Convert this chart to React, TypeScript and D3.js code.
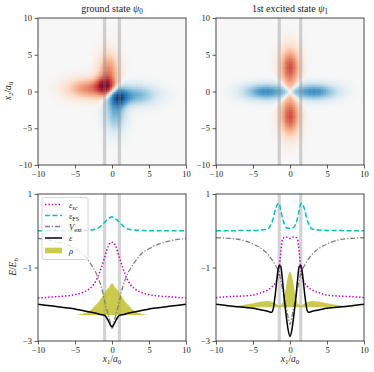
import React, { useEffect, useRef } from 'react'
import * as d3 from 'd3'

const W = 374
const H = 372

// x1 sample positions shared by every 1D curve
const X1 = [-10, -8, -6, -5, -4, -3, -2.5, -2.25, -2, -1.75, -1.5, -1.25, -1, -0.75, -0.5, -0.25, 0,
  0.25, 0.5, 0.75, 1, 1.25, 1.5, 1.75, 2, 2.25, 2.5, 3, 4, 5, 6, 8, 10]

// ground state curves (E/E_h)
const GS_EPS_XC = [-1.83, -1.8, -1.77, -1.74, -1.68, -1.57, -1.47, -1.39, -1.29, -1.17, -1.04, -0.89, -0.73, -0.56, -0.42, -0.33, -0.31,
  -0.33, -0.42, -0.56, -0.73, -0.89, -1.04, -1.17, -1.29, -1.39, -1.47, -1.57, -1.68, -1.74, -1.77, -1.8, -1.83]
const GS_EPS_FS = [0, 0, 0, 0, 0.01, 0.02, 0.03, 0.045, 0.06, 0.09, 0.13, 0.18, 0.23, 0.28, 0.32, 0.36, 0.38,
  0.36, 0.32, 0.28, 0.23, 0.18, 0.13, 0.09, 0.06, 0.045, 0.03, 0.02, 0.01, 0, 0, 0, 0]
const GS_VEXT = [-0.21, -0.27, -0.39, -0.49, -0.62, -0.87, -1.02, -1.11, -1.22, -1.34, -1.49, -1.68, -1.92, -2.12, -2.3, -2.48, -2.66,
  -2.48, -2.3, -2.12, -1.92, -1.68, -1.49, -1.34, -1.22, -1.11, -1.02, -0.87, -0.62, -0.49, -0.39, -0.27, -0.21]
const GS_EPS = [-2.0, -2.05, -2.1, -2.13, -2.17, -2.21, -2.23, -2.24, -2.25, -2.27, -2.28, -2.29, -2.3, -2.36, -2.45, -2.55, -2.62,
  -2.55, -2.45, -2.36, -2.3, -2.29, -2.28, -2.27, -2.25, -2.24, -2.23, -2.21, -2.17, -2.13, -2.1, -2.05, -2.0]
const GS_RHO = [0, 0, 0, 0, 0.03, 0.11, 0.2, 0.26, 0.31, 0.37, 0.44, 0.52, 0.6, 0.67, 0.73, 0.8, 0.86,
  0.8, 0.73, 0.67, 0.6, 0.52, 0.44, 0.37, 0.31, 0.26, 0.2, 0.11, 0.03, 0, 0, 0, 0]
const GS_RHO_BASE = -2.29

// 1st excited state curves
const ES_EPS_XC = [-1.82, -1.79, -1.77, -1.75, -1.69, -1.61, -1.54, -1.49, -1.43, -1.32, -1.12, -0.6, -0.22, -0.18, -0.17, -0.19, -0.21,
  -0.19, -0.17, -0.18, -0.22, -0.6, -1.12, -1.32, -1.43, -1.49, -1.54, -1.61, -1.69, -1.75, -1.77, -1.79, -1.82]
const ES_EPS_FS = [0, 0, 0.01, 0.01, 0.02, 0.05, 0.2, 0.34, 0.56, 0.7, 0.75, 0.56, 0.33, 0.17, 0.09, 0.07, 0.07,
  0.07, 0.09, 0.17, 0.33, 0.56, 0.75, 0.7, 0.56, 0.34, 0.2, 0.05, 0.02, 0.01, 0.01, 0, 0]
const ES_VEXT = [-0.19, -0.21, -0.28, -0.36, -0.47, -0.64, -0.77, -0.84, -0.93, -1.02, -1.12, -1.35, -1.6, -1.85, -2.1, -2.35, -2.55,
  -2.35, -2.1, -1.85, -1.6, -1.35, -1.12, -1.02, -0.93, -0.84, -0.77, -0.64, -0.47, -0.36, -0.28, -0.21, -0.19]
const ES_EPS = [-2.0, -2.05, -2.09, -2.11, -2.15, -2.19, -2.22, -2.11, -1.75, -1.28, -0.95, -0.97, -1.38, -1.9, -2.33, -2.7, -2.88,
  -2.7, -2.33, -1.9, -1.38, -0.97, -0.95, -1.28, -1.75, -2.11, -2.22, -2.19, -2.15, -2.11, -2.09, -2.05, -2.0]
const ES_RHO = [0, 0.01, 0.07, 0.11, 0.15, 0.17, 0.15, 0.13, 0.11, 0.07, 0.04, 0.06, 0.13, 0.3, 0.6, 0.85, 0.97,
  0.85, 0.6, 0.3, 0.13, 0.06, 0.04, 0.07, 0.11, 0.13, 0.15, 0.17, 0.15, 0.11, 0.07, 0.01, 0]
const ES_RHO_BASE = -2.08

// grey marker bands on x1
const GS_BANDS = [-1, 1]
const ES_BANDS = [-1.45, 1.45]

// wavefunction lobes (a > 0 red, a < 0 blue)
const GS_LOBES = [
  { cx: -3.0, cy: 0.45, sx: 2.2, sy: 1.0, a: 0.5 },
  { cx: -0.45, cy: 2.7, sx: 1.0, sy: 1.9, a: 0.48 },
  { cx: -1.0, cy: 0.8, sx: 0.85, sy: 0.85, a: 0.42 },
  { cx: 3.0, cy: -0.45, sx: 2.2, sy: 1.0, a: -0.5 },
  { cx: 0.45, cy: -2.7, sx: 1.0, sy: 1.9, a: -0.48 },
  { cx: 1.0, cy: -0.8, sx: 0.85, sy: 0.85, a: -0.42 },
]
const ES_LOBES = [
  { cx: 0, cy: 3.3, sx: 0.95, sy: 1.9, a: 0.64 },
  { cx: 0, cy: -3.3, sx: 0.95, sy: 1.9, a: 0.64 },
  { cx: 3.3, cy: 0, sx: 2.2, sy: 0.8, a: -0.62 },
  { cx: -3.3, cy: 0, sx: 2.2, sy: 0.8, a: -0.62 },
]

const XTICKS = [-10, -5, 0, 5, 10]
const ETICKS = [1, -1, -3]

const FONT = 'Liberation Serif, DejaVu Serif, serif'
const INK = '#333'

type Part = [string, string]

function rich(sel: any, parts: Part[]) {
  let shifted = false
  parts.forEach(([t, s]) => {
    const sp = sel.append('tspan').text(t)
    if (s.includes('i')) sp.attr('font-style', 'italic')
    if (s.includes('s')) {
      sp.attr('font-size', '72%')
      if (!shifted) sp.attr('dy', 2.2)
      shifted = true
    } else if (shifted) {
      sp.attr('dy', -2.2)
      shifted = false
    }
  })
}

export default function App() {
  const ref = useRef<SVGSVGElement>(null)

  useEffect(() => {
    const svg = d3.select(ref.current)
    svg.selectAll('*').remove()
    svg.append('rect').attr('width', W).attr('height', H).attr('fill', '#fff')

    const cols = [[38, 186], [216, 364]]
    const topRow = [18, 165]
    const botRow = [194, 341]
    const fmt = d3.format('d')
    const rdbu = d3.piecewise(d3.interpolateRgb, [...d3.schemeRdBu[11]])

    const frame = (g: any, x: any, y: any) => {
      g.append('rect')
        .attr('x', x.range()[0]).attr('y', y.range()[1])
        .attr('width', x.range()[1] - x.range()[0])
        .attr('height', y.range()[0] - y.range()[1])
        .attr('fill', 'none').attr('stroke', INK).attr('stroke-width', 0.9)
    }

    const axes = (g: any, x: any, y: any, yTicks: number[]) => {
      const ax = g.append('g').attr('transform', `translate(0,${y.range()[0]})`)
        .call(d3.axisBottom(x).tickValues(XTICKS).tickFormat(fmt).tickSize(3.5).tickSizeOuter(0).tickPadding(2.5))
      const ay = g.append('g').attr('transform', `translate(${x.range()[0]},0)`)
        .call(d3.axisLeft(y).tickValues(yTicks).tickFormat(fmt).tickSize(3.5).tickSizeOuter(0).tickPadding(2.5))
      ;[ax, ay].forEach((a) => {
        a.attr('font-family', FONT)
        a.select('.domain').remove()
        a.selectAll('line').attr('stroke', INK).attr('stroke-width', 0.8)
        a.selectAll('text').attr('font-family', FONT).attr('font-size', 8.5).attr('fill', '#222')
      })
    }

    const bands = (g: any, x: any, y: any, bs: number[]) => {
      g.selectAll(null).data(bs).join('rect')
        .attr('x', (d: number) => x(d) - 1.6).attr('width', 3.2)
        .attr('y', y.range()[1]).attr('height', y.range()[0] - y.range()[1])
        .attr('fill', '#808080').attr('opacity', 0.35)
    }

    // ---- top: wavefunction maps
    const heat = (col: number[], lobes: typeof GS_LOBES, node: (a: number, b: number) => number, bs: number[], title: Part[]) => {
      const g = svg.append('g')
      const x = d3.scaleLinear().domain([-10, 10]).range(col)
      const y = d3.scaleLinear().domain([-10, 10]).range([topRow[1], topRow[0]])
      g.append('rect').attr('x', col[0]).attr('y', topRow[0])
        .attr('width', col[1] - col[0]).attr('height', topRow[1] - topRow[0]).attr('fill', '#f7f7f7')
      const N = 90
      const step = 20 / N
      const cells: { i: number; j: number; v: number }[] = []
      for (let i = 0; i < N; i++) {
        for (let j = 0; j < N; j++) {
          const x1 = -10 + (i + 0.5) * step
          const x2 = -10 + (j + 0.5) * step
          let v = 0
          for (const l of lobes) {
            const gval = l.a * Math.exp(-0.5 * ((x1 - l.cx) / l.sx) ** 2 - 0.5 * ((x2 - l.cy) / l.sy) ** 2)
            v += gval * Math.max(0, Math.tanh((node(x1, x2) * Math.sign(l.a)) / 0.3))
          }
          if (Math.abs(v) > 0.003) cells.push({ i, j, v })
        }
      }
      const color = (v: number) => rdbu((1 - Math.max(-1, Math.min(1, v))) / 2)
      const cw = x(step - 10) - x(-10)
      g.append('g').selectAll('rect').data(cells).join('rect')
        .attr('x', (d) => x(-10 + d.i * step))
        .attr('y', (d) => y(-10 + (d.j + 1) * step))
        .attr('width', cw + 0.4).attr('height', cw + 0.4)
        .attr('fill', (d) => color(d.v))
      bands(g, x, y, bs)
      frame(g, x, y)
      axes(g, x, y, XTICKS)
      const t = g.append('text').attr('x', (col[0] + col[1]) / 2).attr('y', 12)
        .attr('text-anchor', 'middle').attr('font-family', FONT).attr('font-size', 10).attr('fill', '#222')
      rich(t, title)
    }

    heat(cols[0], GS_LOBES, (a, b) => (b - a) / Math.SQRT2, GS_BANDS, [['ground state ', ''], ['ψ', 'i'], ['0', 's']])
    heat(cols[1], ES_LOBES, (a, b) => (Math.abs(b) - Math.abs(a)) / Math.SQRT2, ES_BANDS, [['1st excited state ', ''], ['ψ', 'i'], ['1', 's']])

    // ---- bottom: energy densities
    const series = [
      { key: 'xc', color: '#bf00bf', dash: '1.4,2', width: 1.5, label: [['ε', 'i'], ['xc', 'si']] as Part[] },
      { key: 'fs', color: '#00bfbf', dash: '5,2.5', width: 1.5, label: [['ε', 'i'], ['FS', 's']] as Part[] },
      { key: 'v', color: '#808080', dash: '5,1.8,1.3,1.8', width: 1.3, label: [['V', 'i'], ['ext', 's']] as Part[] },
      { key: 'e', color: '#000', dash: null, width: 1.5, label: [['ε', 'i']] as Part[] },
    ]
    const RHO_FILL = '#bcbd22'

    const lines = (col: number[], vals: Record<string, number[]>, rho: number[], base: number, bs: number[], legend: boolean) => {
      const g = svg.append('g')
      const x = d3.scaleLinear().domain([-10, 10]).range(col)
      const y = d3.scaleLinear().domain([-3, 1]).range([botRow[1], botRow[0]])
      const clipId = `clip${col[0]}`
      g.append('clipPath').attr('id', clipId).append('rect')
        .attr('x', col[0]).attr('y', botRow[0]).attr('width', col[1] - col[0]).attr('height', botRow[1] - botRow[0])
      bands(g, x, y, bs)
      const inner = g.append('g').attr('clip-path', `url(#${clipId})`)
      const area = d3.area<number>().x((_, i) => x(X1[i])).y0(y(base)).y1((d) => y(base + d)).curve(d3.curveMonotoneX)
      inner.append('path').attr('d', area(rho)).attr('fill', RHO_FILL).attr('opacity', 0.8)
      const line = d3.line<number>().x((_, i) => x(X1[i])).y((d) => y(d)).curve(d3.curveMonotoneX)
      series.forEach((s) => {
        inner.append('path').attr('d', line(vals[s.key]))
          .attr('fill', 'none').attr('stroke', s.color).attr('stroke-width', s.width)
          .attr('stroke-dasharray', s.dash)
      })
      frame(g, x, y)
      axes(g, x, y, ETICKS)
      const xl = g.append('text').attr('x', (col[0] + col[1]) / 2).attr('y', 362)
        .attr('text-anchor', 'middle').attr('font-family', FONT).attr('font-size', 9.5).attr('fill', '#222')
      rich(xl, [['x', 'i'], ['1', 's'], ['/', ''], ['a', 'i'], ['0', 's']])

      if (legend) {
        const lg = g.append('g')
        lg.append('rect').attr('x', 42).attr('y', 197.5).attr('width', 46).attr('height', 62).attr('rx', 2)
          .attr('fill', '#fff').attr('fill-opacity', 0.8).attr('stroke', '#ccc').attr('stroke-width', 0.8)
        const rowsY = [204.5, 215.5, 226.5, 238, 250.5]
        series.forEach((s, i) => {
          lg.append('line').attr('x1', 45).attr('x2', 62).attr('y1', rowsY[i]).attr('y2', rowsY[i])
            .attr('stroke', s.color).attr('stroke-width', s.width).attr('stroke-dasharray', s.dash)
          const t = lg.append('text').attr('x', 69).attr('y', rowsY[i] + 3)
            .attr('font-family', FONT).attr('font-size', 8.5).attr('fill', '#222')
          rich(t, s.label)
        })
        lg.append('rect').attr('x', 45).attr('y', rowsY[4] - 2.8).attr('width', 17).attr('height', 5.6)
          .attr('fill', RHO_FILL).attr('opacity', 0.8)
        const t = lg.append('text').attr('x', 69).attr('y', rowsY[4] + 3)
          .attr('font-family', FONT).attr('font-size', 8.5).attr('fill', '#222')
        rich(t, [['ρ', 'i']])
      }
    }

    lines(cols[0], { xc: GS_EPS_XC, fs: GS_EPS_FS, v: GS_VEXT, e: GS_EPS }, GS_RHO, GS_RHO_BASE, GS_BANDS, true)
    lines(cols[1], { xc: ES_EPS_XC, fs: ES_EPS_FS, v: ES_VEXT, e: ES_EPS }, ES_RHO, ES_RHO_BASE, ES_BANDS, false)

    // y labels
    const yl1 = svg.append('text').attr('transform', 'translate(11,91) rotate(-90)')
      .attr('text-anchor', 'middle').attr('font-family', FONT).attr('font-size', 9.5).attr('fill', '#222')
    rich(yl1, [['x', 'i'], ['2', 's'], ['/', ''], ['a', 'i'], ['0', 's']])
    const yl2 = svg.append('text').attr('transform', 'translate(16,267) rotate(-90)')
      .attr('text-anchor', 'middle').attr('font-family', FONT).attr('font-size', 9.5).attr('fill', '#222')
    rich(yl2, [['E', 'i'], ['/', ''], ['E', 'i'], ['h', 's']])
  }, [])

  return (
    <svg ref={ref} width={W} height={H} style={{ position: 'absolute', left: 0, top: 0, display: 'block' }} />
  )
}
